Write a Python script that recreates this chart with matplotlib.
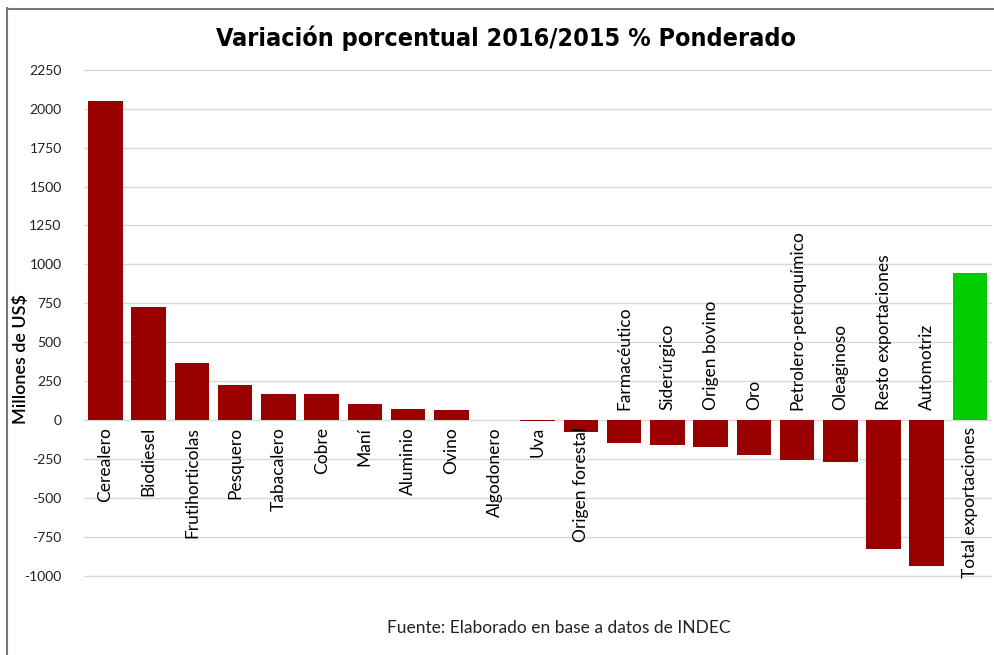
import matplotlib
matplotlib.use("Agg")
import matplotlib.pyplot as plt
from matplotlib.lines import Line2D

categories = ["Cerealero", "Biodiesel", "Frutihorticolas", "Pesquero", "Tabacalero",
              "Cobre", "Maní", "Aluminio", "Ovino", "Algodonero", "Uva",
              "Origen forestal", "Farmacéutico", "Siderúrgico", "Origen bovino",
              "Oro", "Petrolero-petroquímico", "Oleaginoso", "Resto exportaciones",
              "Automotriz", "Total exportaciones"]
values = [2050, 725, 365, 225, 167, 167, 103, 70, 64, 1, -8, -80, -145, -160,
          -173, -224, -256, -269, -827, -936, 942]
yticks = [-1000, -750, -500, -250, 0, 250, 500, 750, 1000, 1250, 1500, 1750, 2000, 2250]

plt.rcParams['font.family'] = ['Lato', 'DejaVu Sans']

W, H = 995, 655
fig = plt.figure(figsize=(W / 100, H / 100), dpi=100)
ax = fig.add_axes([83.9 / W, 1 - 588 / H, 907.7 / W, 529 / H])

colors = ['#00cc00' if c == "Total exportaciones" else '#990000' for c in categories]
x = list(range(len(categories)))
ax.bar(x, values, width=0.8, color=colors, zorder=3)

ax.set_xlim(-0.5, len(categories) - 0.5)
ax.set_ylim(-1080, 2320)
ax.set_yticks(yticks)
ax.set_yticklabels([str(t) for t in yticks], fontsize=10, color='#222222')
ax.tick_params(axis='y', length=0, pad=16)
ax.set_xticks([])
ax.grid(axis='y', color='#d9d9d9', linewidth=1, zorder=0)
for s in ax.spines.values():
    s.set_visible(False)

for xi, (c, v) in enumerate(zip(categories, values)):
    if v >= -100:
        ax.annotate(c, (xi, 0), xytext=(0, -5), textcoords='offset points',
                    rotation=90, ha='center', va='top', fontsize=12.5, zorder=4)
    else:
        ax.annotate(c, (xi, 0), xytext=(0, 7), textcoords='offset points',
                    rotation=90, ha='center', va='bottom', fontsize=12.5, zorder=4)

fig.text(21 / W, 1 - 359 / H, "Millones de US$", rotation=90, ha='center', va='center',
         fontsize=13, fontweight='semibold')

fig.text(506 / W, 1 - 38 / H, "Variación porcentual 2016/2015 % Ponderado",
         ha='center', va='center', fontsize=18, fontweight='bold',
         fontstretch='condensed', family=['DejaVu Sans'])

fig.text(559 / W, 1 - 628 / H, "Fuente: Elaborado en base a datos de INDEC",
         ha='center', va='center', fontsize=12.5, color='#222222')

fig.add_artist(Line2D([7.5 / W, 7.5 / W], [1 - 8 / H, 0], transform=fig.transFigure,
                      color='#777777', linewidth=1.5))
fig.add_artist(Line2D([7.5 / W, 1], [1 - 8.5 / H, 1 - 8.5 / H], transform=fig.transFigure,
                      color='#777777', linewidth=1.5))

fig.savefig("out.png", dpi=100)
